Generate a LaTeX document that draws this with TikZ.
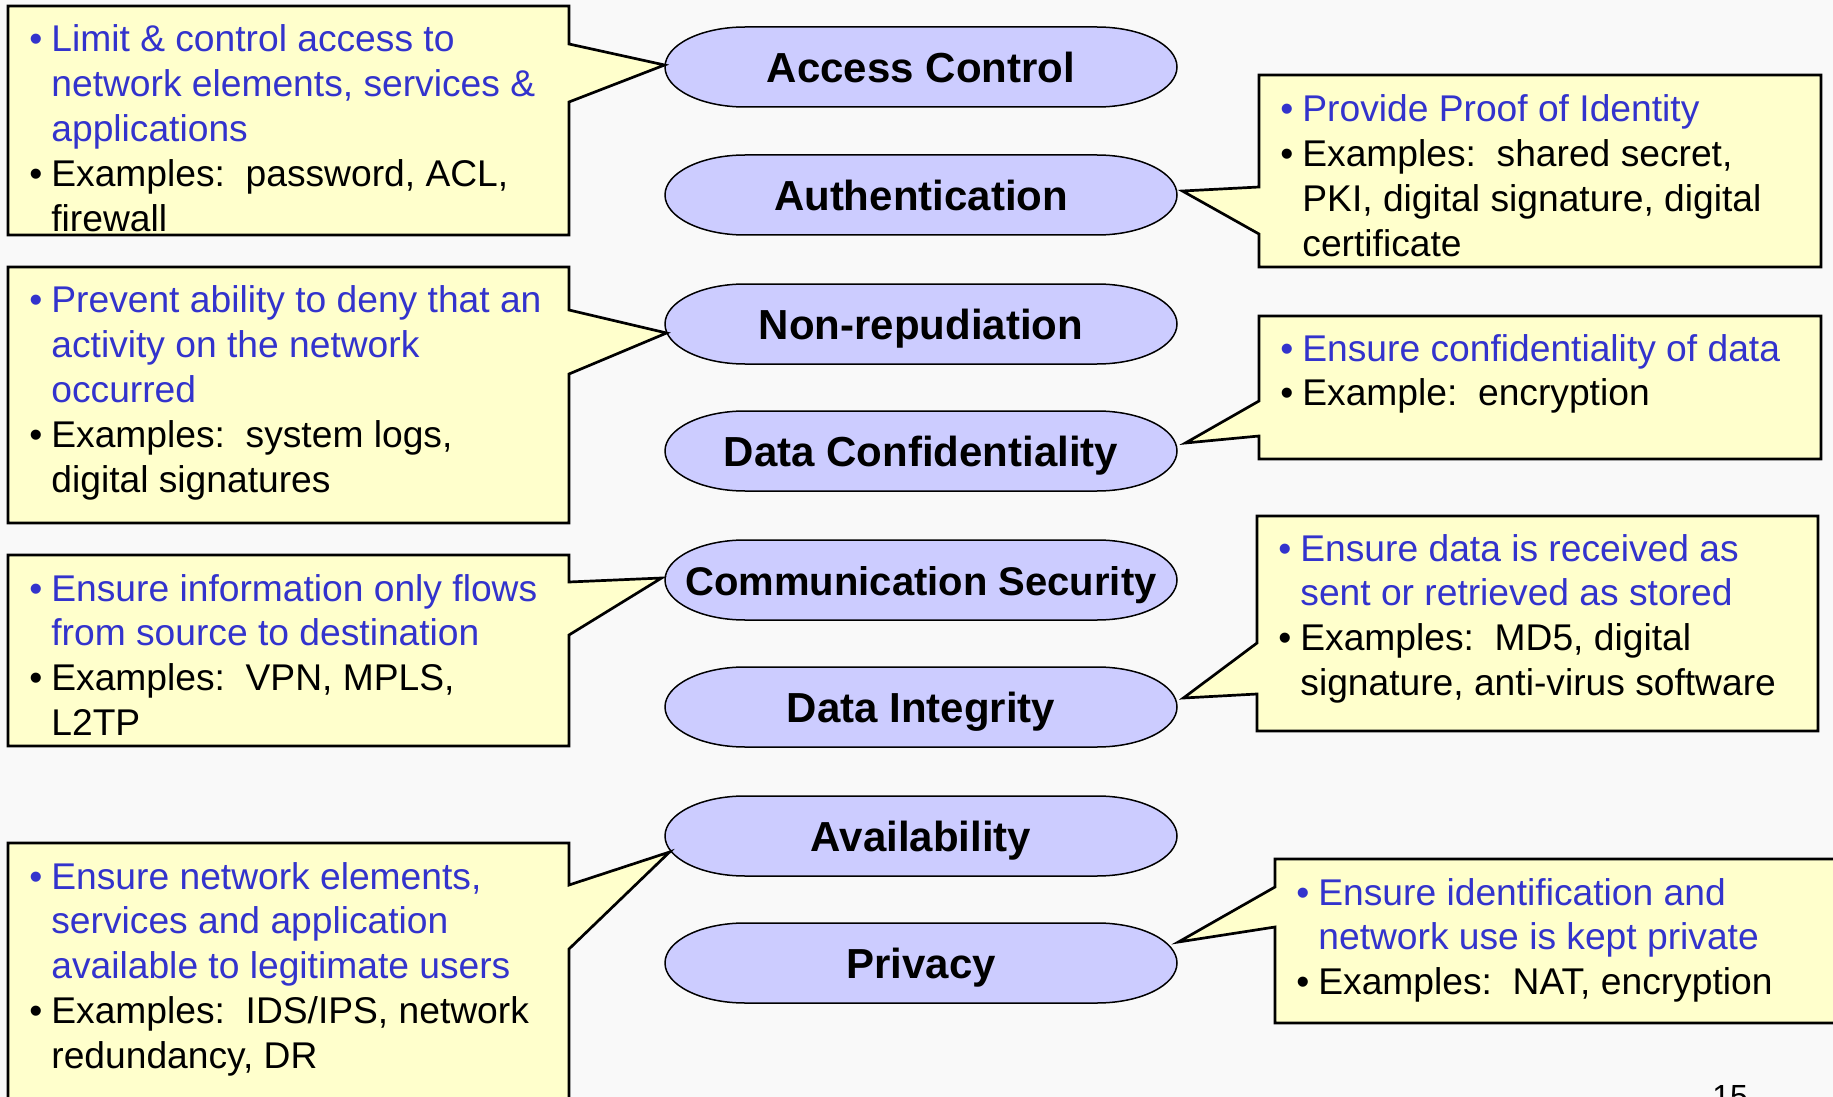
\documentclass[tikz,border=0pt]{standalone}
\usepackage{fontspec}
\setmainfont{Liberation Sans}
\usetikzlibrary{calc,shapes.geometric,backgrounds}

\definecolor{bg}{RGB}{249,249,249}
\definecolor{boxfill}{RGB}{255,255,204}
\definecolor{ellfill}{RGB}{204,204,255}
\definecolor{txtblue}{RGB}{51,51,204}

% text block of a callout: first line's baseline is the node's base
\newcommand\calltext[1]{\parbox[t]{300pt}{\fontsize{18.6pt}{22.4pt}\selectfont
  \parindent=0pt\parskip=0pt\rightskip=0pt plus 1fil\relax #1}}
% one bulleted item with hanging indent
\newcommand\bitem[2]{{\noindent\color{#1}\hangindent=11pt\hangafter=1
  \makebox[11pt][l]{•}#2\par}}
% fixed-width label so every service oval has the same size
\newcommand\svlabel[1]{\makebox[150pt]{#1}}

\tikzset{
  service/.style={ellipse, minimum width=256pt, minimum height=40pt, inner sep=0pt,
    text height=15.2pt, text depth=0pt,
    font=\fontsize{21pt}{25pt}\selectfont\bfseries},
  ovalshape/.style={draw=black, line width=0.75pt, fill=ellfill},
  callbox/.style={draw=black, line width=1.35pt, fill=boxfill, line join=miter},
  calltxt/.style={anchor=base west, inner sep=0pt}
}

\begin{document}
\begin{tikzpicture}[x=0.5pt,y=-0.5pt]
\useasboundingbox (0,0) rectangle (1833,1097);
\clip (0,0) rectangle (1833,1097);

% security services
\node[service] (ac) at (921,67)  {\svlabel{Access Control}};
\node[service] (au) at (921,195) {\svlabel{Authentication}};
\node[service] (nr) at (921,324) {\svlabel{Non-repudiation}};
\node[service] (dc) at (921,451) {\svlabel{Data Confidentiality}};
\node[service, font=\fontsize{20pt}{24pt}\selectfont\bfseries] (cs) at (921,580) {\svlabel{Communication Security}};
\node[service] (di) at (921,707) {\svlabel{Data Integrity}};
\node[service] (av) at (921,836) {\svlabel{Availability}};
\node[service] (pr) at (921,963) {\svlabel{Privacy}};

% long ovals with elliptical end caps behind the service labels
\begin{scope}[on background layer]
  \fill[bg] (0,0) rectangle (1833,1097);
  \foreach \n in {ac,au,nr,dc,cs,di,av,pr}
    \draw[ovalshape, shift={(\n.center)}]
      (-176,-40) -- (176,-40)
      arc[start angle=-90, end angle=90, x radius=80, y radius=40]
      -- (-176,40)
      arc[start angle=90, end angle=270, x radius=80, y radius=40]
      -- cycle;
\end{scope}

% callouts on the left
\draw[callbox] (8,6) -| (569,44) -- ($(ac.west)+(0,-2)$) -- (569,102) |- (8,235) -- cycle;
\node[calltxt] (t1) at (29,52) {\calltext{%
  \bitem{txtblue}{Limit \& control access to\\network elements, services \&\\applications}%
  \bitem{black}{Examples:\ \ password, ACL,\\firewall}}};

\draw[callbox] (8,267) -| (569,310) -- ($(nr.west)+(2,9)$) -- (569,374) |- (8,523) -- cycle;
\node[calltxt] (t2) at (29,313) {\calltext{%
  \bitem{txtblue}{Prevent ability to deny that an\\activity on the network\\occurred}%
  \bitem{black}{Examples:\ \ system logs,\\digital signatures}}};

\draw[callbox] (8,555) -| (569,582) -- ($(cs.west)+(-3,-2)$) -- (569,635) |- (8,746) -- cycle;
\node[calltxt] (t3) at (29,601) {\calltext{%
  \bitem{txtblue}{Ensure information only flows\\from source to destination}%
  \bitem{black}{Examples:\ \ VPN, MPLS,\\L2TP}}};

\draw[callbox] (8,843) -| (569,885) -- ($(av.west)+(5,16)$) -- (569,949) |- (8,1110) -- cycle;
\node[calltxt] (t4) at (29,889) {\calltext{%
  \bitem{txtblue}{Ensure network elements,\\services and application\\available to legitimate users}%
  \bitem{black}{Examples:\ \ IDS/IPS, network\\redundancy, DR}}};

% callouts on the right
\draw[callbox] (1821,75) -| (1259,187) -- ($(au.east)+(5,-4)$) -- (1259,234) |- (1821,267) -- cycle;
\node[calltxt] (t5) at (1280,122) {\calltext{%
  \bitem{txtblue}{Provide Proof of Identity}%
  \bitem{black}{Examples:\ \ shared secret,\\PKI, digital signature, digital\\certificate}}};

\draw[callbox] (1821,316) -| (1259,401) -- ($(dc.east)+(8,-8)$) -- (1259,436) |- (1821,459) -- cycle;
\node[calltxt] (t6) at (1280,361) {\calltext{%
  \bitem{txtblue}{Ensure confidentiality of data}%
  \bitem{black}{Example:\ \ encryption}}};

\draw[callbox] (1818,516) -| (1257,643) -- ($(di.east)+(6,-9)$) -- (1257,694) |- (1818,731) -- cycle;
\node[calltxt] (t7) at (1278,561) {\calltext{%
  \bitem{txtblue}{Ensure data is received as\\sent or retrieved as stored}%
  \bitem{black}{Examples:\ \ MD5, digital\\signature, anti-virus software}}};

\draw[callbox] (1850,859) -| (1275,887) -- ($(pr.east)+(1,-21)$) -- (1275,927) |- (1850,1023) -- cycle;
\node[calltxt] (t8) at (1296,905) {\calltext{%
  \bitem{txtblue}{Ensure identification and\\network use is kept private}%
  \bitem{black}{Examples:\ \ NAT, encryption}}};

% page number
\node[anchor=north west, inner sep=0pt, font=\fontsize{16pt}{19pt}\selectfont] (pg) at (1712,1085) {15};
\end{tikzpicture}
\end{document}
